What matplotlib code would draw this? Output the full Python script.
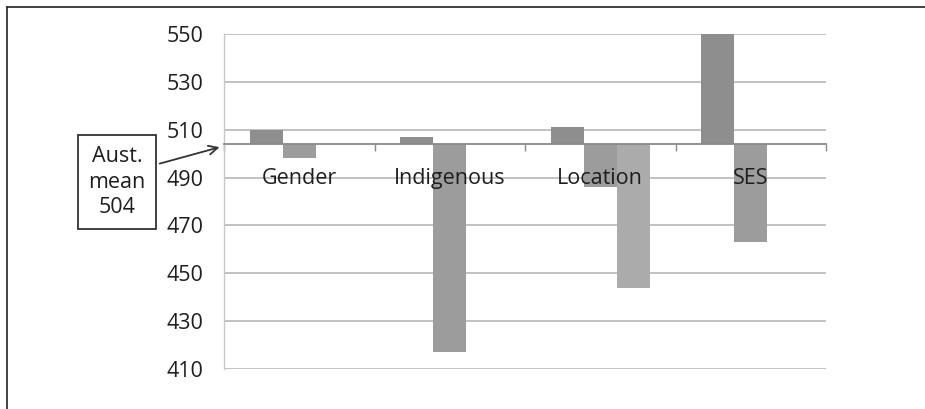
import numpy as np
import matplotlib
matplotlib.use("Agg")
import matplotlib.pyplot as plt
from matplotlib.lines import Line2D

# Datos
categories = ["Gender", "Indigenous", "Location", "SES"]
series_1 = [510, 507, 511, 550]
series_2 = [498, 417, 486, 463]
series_3 = [np.nan, np.nan, 444, np.nan]
aust_mean = 504
y_ticks = [410, 430, 450, 470, 490, 510, 530, 550]

plt.rcParams["font.family"] = ["Open Sans", "DejaVu Sans"]

fig = plt.figure(figsize=(9.25, 4.09), dpi=100)
ax = fig.add_axes([0.2422, 0.0978, 0.6508, 0.8191])

x = np.arange(len(categories))
bar_w = 0.22
colors = ["#8e8e8e", "#9c9c9c", "#ababab"]
for i, (vals, c) in enumerate(zip([series_1, series_2, series_3], colors)):
    vals = np.array(vals, dtype=float)
    ax.bar(x + (i - 1) * bar_w, vals - aust_mean, bottom=aust_mean,
           width=bar_w, color=c, zorder=1)

# Lineas de cuadricula detras de las barras
for yt in y_ticks:
    ax.axhline(yt, color="#bdbdbd", linewidth=1.3, zorder=0)

# Ejes
ax.set_xlim(-0.5, len(categories) - 0.5)
ax.set_ylim(410, 550)
ax.set_yticks(y_ticks)

for s in ["top", "right"]:
    ax.spines[s].set_visible(False)
ax.spines["left"].set_color("#c8c8c8")
ax.spines["left"].set_linewidth(1.0)
ax.spines["bottom"].set_position(("data", aust_mean))
ax.spines["bottom"].set_color("#8a8a8a")
ax.spines["bottom"].set_linewidth(1.3)

# Marcas entre categorias, etiquetas en el centro
ax.set_xticks(np.arange(len(categories) + 1) - 0.5)
ax.set_xticklabels([])
ax.set_xticks(x, minor=True)
ax.set_xticklabels(categories, minor=True)
ax.tick_params(axis="x", which="major", length=5, color="#8a8a8a", width=1)
ax.tick_params(axis="x", which="minor", length=0, pad=17,
               labelsize=15.5, labelcolor="#1e1e1e")
ax.tick_params(axis="y", length=0, pad=15, labelsize=15.5, labelcolor="#1e1e1e")

# Recuadro con flecha
ax.annotate("Aust.\nmean\n504", xy=(-0.003, 503), xycoords=("axes fraction", "data"),
            xytext=(117, 227), textcoords="figure pixels",
            ha="center", va="center", fontsize=15.5, color="#1e1e1e",
            linespacing=1.3,
            bbox=dict(boxstyle="square,pad=0.5", fc="white", ec="#333333", lw=1.3),
            arrowprops=dict(arrowstyle="->", color="#333333", lw=1.3,
                            relpos=(1.0, 0.7), mutation_scale=16))

# Marco de la figura
fig.add_artist(Line2D([0.0076, 1.0], [0.983, 0.983], color="#333333", lw=1.3))
fig.add_artist(Line2D([0.0076, 0.0076], [0.0, 0.983], color="#333333", lw=1.3))

plt.savefig("out.png", dpi=100)
